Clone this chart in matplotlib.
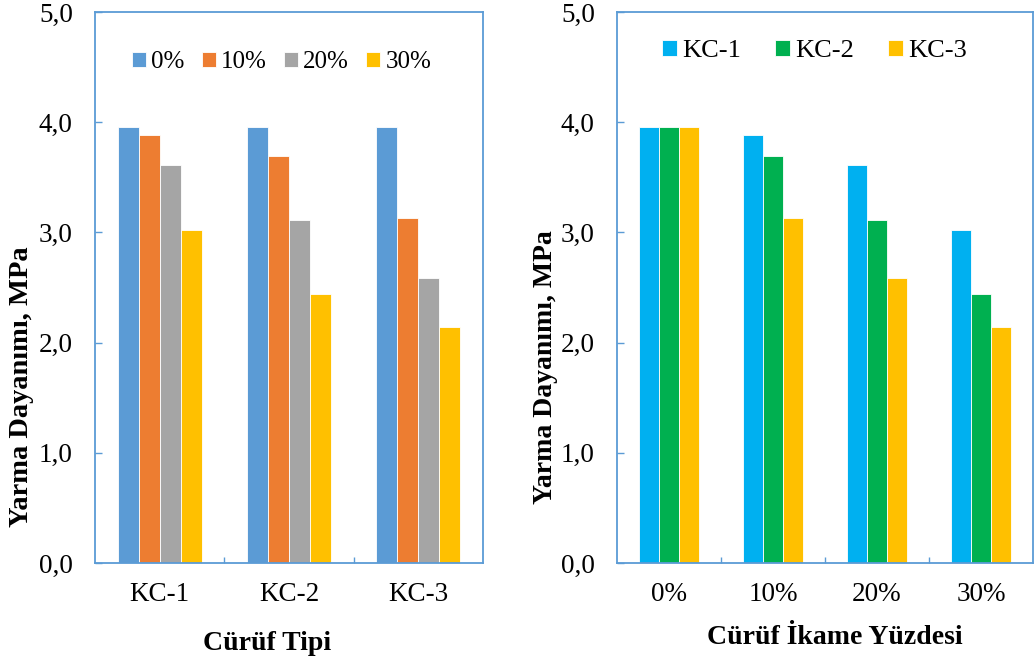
import matplotlib
matplotlib.use("Agg")
import matplotlib.pyplot as plt
import numpy as np
from matplotlib.ticker import FuncFormatter

plt.rcParams['font.family'] = ['Liberation Serif', 'DejaVu Serif']

# data
slag_types = ["KC-1", "KC-2", "KC-3"]
ratios = ["0%", "10%", "20%", "30%"]

# splitting strength (MPa) per slag type, one list per replacement ratio
r0 = [3.96, 3.96, 3.96]
r10 = [3.88, 3.69, 3.13]
r20 = [3.61, 3.11, 2.59]
r30 = [3.02, 2.44, 2.14]

# same values regrouped by replacement ratio
kc1 = [3.96, 3.88, 3.61, 3.02]
kc2 = [3.96, 3.69, 3.11, 2.44]
kc3 = [3.96, 3.13, 2.59, 2.14]

left_colors = ["#5B9BD5", "#ED7D31", "#A5A5A5", "#FFC000"]
right_colors = ["#00B0F0", "#00B050", "#FFC000"]
spine_c = "#5B9BD5"
fs = 19.5

W, H = 1035, 664
fig = plt.figure(figsize=(W / 100, H / 100), dpi=100)

ax1 = fig.add_axes([95 / W, (H - 563) / H, (483 - 95) / W, 551 / H])
ax2 = fig.add_axes([617 / W, (H - 563) / H, (1033 - 617) / W, 551 / H])


def style(ax, ncat):
    for s in ax.spines.values():
        s.set_color(spine_c)
        s.set_linewidth(1.3)
    ax.set_ylim(0, 5)
    ax.set_xlim(-0.5, ncat - 0.5)
    ax.set_yticks(np.arange(0, 6, 1))
    ax.yaxis.set_major_formatter(FuncFormatter(lambda v, p: ("%.1f" % v).replace(".", ",")))
    ax.tick_params(axis="y", direction="in", length=5, width=1, color=spine_c,
                   labelsize=fs, pad=16, right=False)
    ax.set_xticks(range(ncat))
    ax.tick_params(axis="x", which="major", length=0, labelsize=fs, pad=14)
    ax.set_xticks(np.arange(0.5, ncat - 0.5, 1), minor=True)
    ax.tick_params(axis="x", which="minor", direction="in", length=4, width=1, color=spine_c)


# left panel: grouped by slag type
w1 = 0.162
x1 = np.arange(len(slag_types))
for i, (vals, lab) in enumerate(zip([r0, r10, r20, r30], ratios)):
    ax1.bar(x1 + (i - 1.5) * w1, vals, w1, color=left_colors[i], label=lab,
            edgecolor="white", linewidth=0.6)
style(ax1, len(slag_types))
ax1.set_xticklabels(slag_types)

# right panel: grouped by replacement ratio
w2 = 0.193
x2 = np.arange(len(ratios))
for i, (vals, lab) in enumerate(zip([kc1, kc2, kc3], slag_types)):
    ax2.bar(x2 + (i - 1) * w2, vals, w2, color=right_colors[i], label=lab,
            edgecolor="white", linewidth=0.6)
style(ax2, len(ratios))
ax2.set_xticklabels(ratios)

fig.legend(*ax1.get_legend_handles_labels(), loc="center", bbox_to_anchor=(281.5 / W, (H - 62) / H),
           ncol=4, frameon=False, fontsize=18, handlelength=0.56, handleheight=0.56,
           handletextpad=0.2, columnspacing=0.7, borderpad=0, borderaxespad=0)
fig.legend(*ax2.get_legend_handles_labels(), loc="center", bbox_to_anchor=(814.5 / W, (H - 51) / H),
           ncol=3, frameon=False, fontsize=19, handlelength=0.56, handleheight=0.56,
           handletextpad=0.2, columnspacing=1.3, borderpad=0, borderaxespad=0)

# axis titles
fig.text(22 / W, (H - 387) / H, "Yarma Dayanımı, MPa", rotation=90, ha="center", va="center",
         fontsize=20.5, fontweight="bold")
fig.text(546 / W, (H - 367) / H, "Yarma Dayanımı, MPa", rotation=90, ha="center", va="center",
         fontsize=20, fontweight="bold")
fig.text(267 / W, (H - 643) / H, "Cürüf Tipi", ha="center", va="center",
         fontsize=20, fontweight="bold")
fig.text(835 / W, (H - 637) / H, "Cürüf İkame Yüzdesi", ha="center", va="center",
         fontsize=20, fontweight="bold")

fig.savefig("out.png", dpi=100)
